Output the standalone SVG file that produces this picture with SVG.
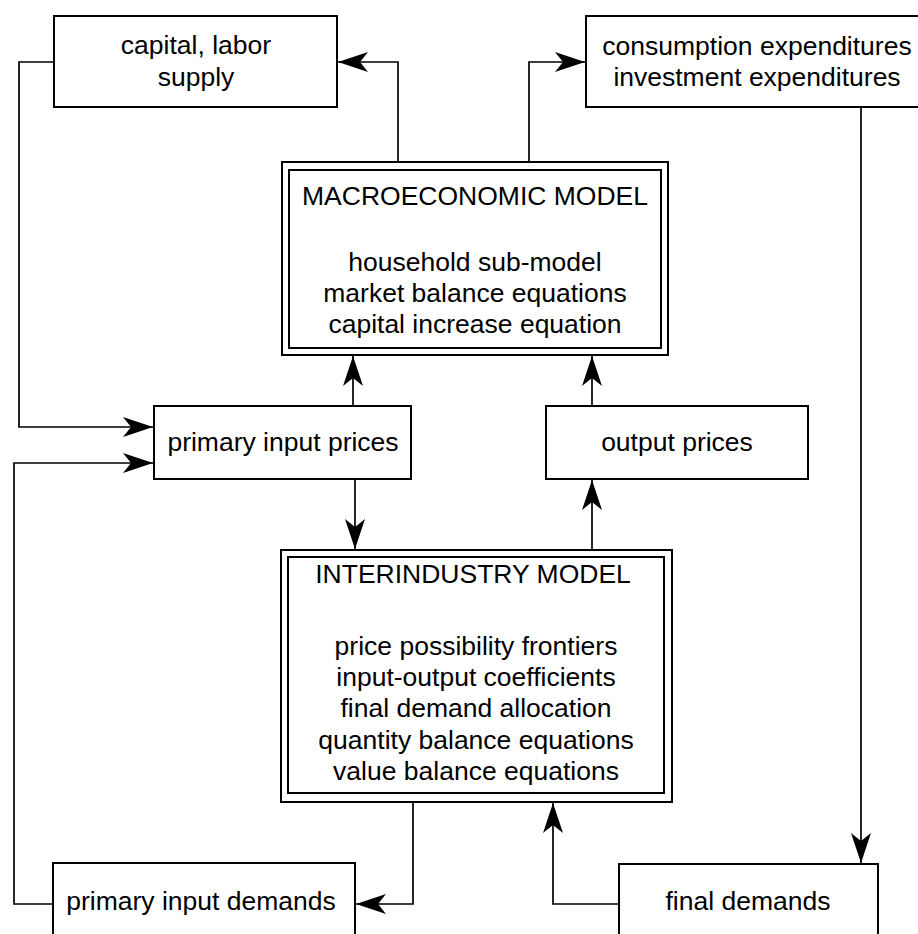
<svg xmlns="http://www.w3.org/2000/svg" width="918" height="934" viewBox="0 0 918 934">
<style>
  .box { fill: #fff; stroke: #000; stroke-width: 2; }
  .conn { fill: none; stroke: #000; stroke-width: 1.7; }
  text { font-family: "Liberation Sans", Arial, Helvetica, sans-serif; font-size: 26.5px; fill: #000; text-anchor: middle; }
</style>
<defs>
  <marker id="arr" viewBox="0 0 30 20" refX="30" refY="10" markerWidth="30" markerHeight="20" markerUnits="userSpaceOnUse" orient="auto">
    <path d="M0,0 L30,10 L0,20 L8,10 Z" fill="#000"/>
  </marker>
</defs>
<rect width="918" height="934" fill="#fff"/>

<g id="connectors">
  <path class="conn" d="M398,162 V62 H338" marker-end="url(#arr)"/>
  <path class="conn" d="M529,162 V62 H585" marker-end="url(#arr)"/>
  <path class="conn" d="M54,62 H19 V427 H153" marker-end="url(#arr)"/>
  <path class="conn" d="M53,904 H14 V463 H153" marker-end="url(#arr)"/>
  <path class="conn" d="M353,406 V356" marker-end="url(#arr)"/>
  <path class="conn" d="M355,479 V549" marker-end="url(#arr)"/>
  <path class="conn" d="M592,406 V356" marker-end="url(#arr)"/>
  <path class="conn" d="M592,550 V480" marker-end="url(#arr)"/>
  <path class="conn" d="M861,107 V863" marker-end="url(#arr)"/>
  <path class="conn" d="M413,802 V904 H356" marker-end="url(#arr)"/>
  <path class="conn" d="M619,904 H553 V803" marker-end="url(#arr)"/>
</g>

<g id="capital-labor-supply">
  <rect class="box" x="54" y="16" width="283" height="91"/>
  <text x="196" y="54">capital, labor</text>
  <text x="196" y="86">supply</text>
</g>

<g id="expenditures">
  <rect class="box" x="586" y="16" width="345" height="91"/>
  <text x="757" y="55">consumption expenditures</text>
  <text x="757" y="86">investment expenditures</text>
</g>

<g id="macroeconomic-model">
  <rect class="box" x="282" y="162" width="386" height="193"/>
  <rect class="box" x="289" y="170" width="372" height="178"/>
  <text x="475" y="205">MACROECONOMIC MODEL</text>
  <text x="475" y="271">household sub-model</text>
  <text x="475" y="302">market balance equations</text>
  <text x="475" y="333">capital increase equation</text>
</g>

<g id="primary-input-prices">
  <rect class="box" x="154" y="406" width="257" height="73"/>
  <text x="283" y="451">primary input prices</text>
</g>

<g id="output-prices">
  <rect class="box" x="546" y="406" width="262" height="73"/>
  <text x="677" y="451">output prices</text>
</g>

<g id="interindustry-model">
  <rect class="box" x="281" y="550" width="391" height="252"/>
  <rect class="box" x="288" y="557" width="376" height="236"/>
  <text x="473" y="583">INTERINDUSTRY MODEL</text>
  <text x="476" y="655">price possibility frontiers</text>
  <text x="476" y="686">input-output coefficients</text>
  <text x="476" y="717">final demand allocation</text>
  <text x="476" y="749">quantity balance equations</text>
  <text x="476" y="780">value balance equations</text>
</g>

<g id="primary-input-demands">
  <rect class="box" x="53" y="863" width="302" height="100"/>
  <text x="201" y="910">primary input demands</text>
</g>

<g id="final-demands">
  <rect class="box" x="619" y="864" width="259" height="100"/>
  <text x="748" y="910">final demands</text>
</g>
</svg>
